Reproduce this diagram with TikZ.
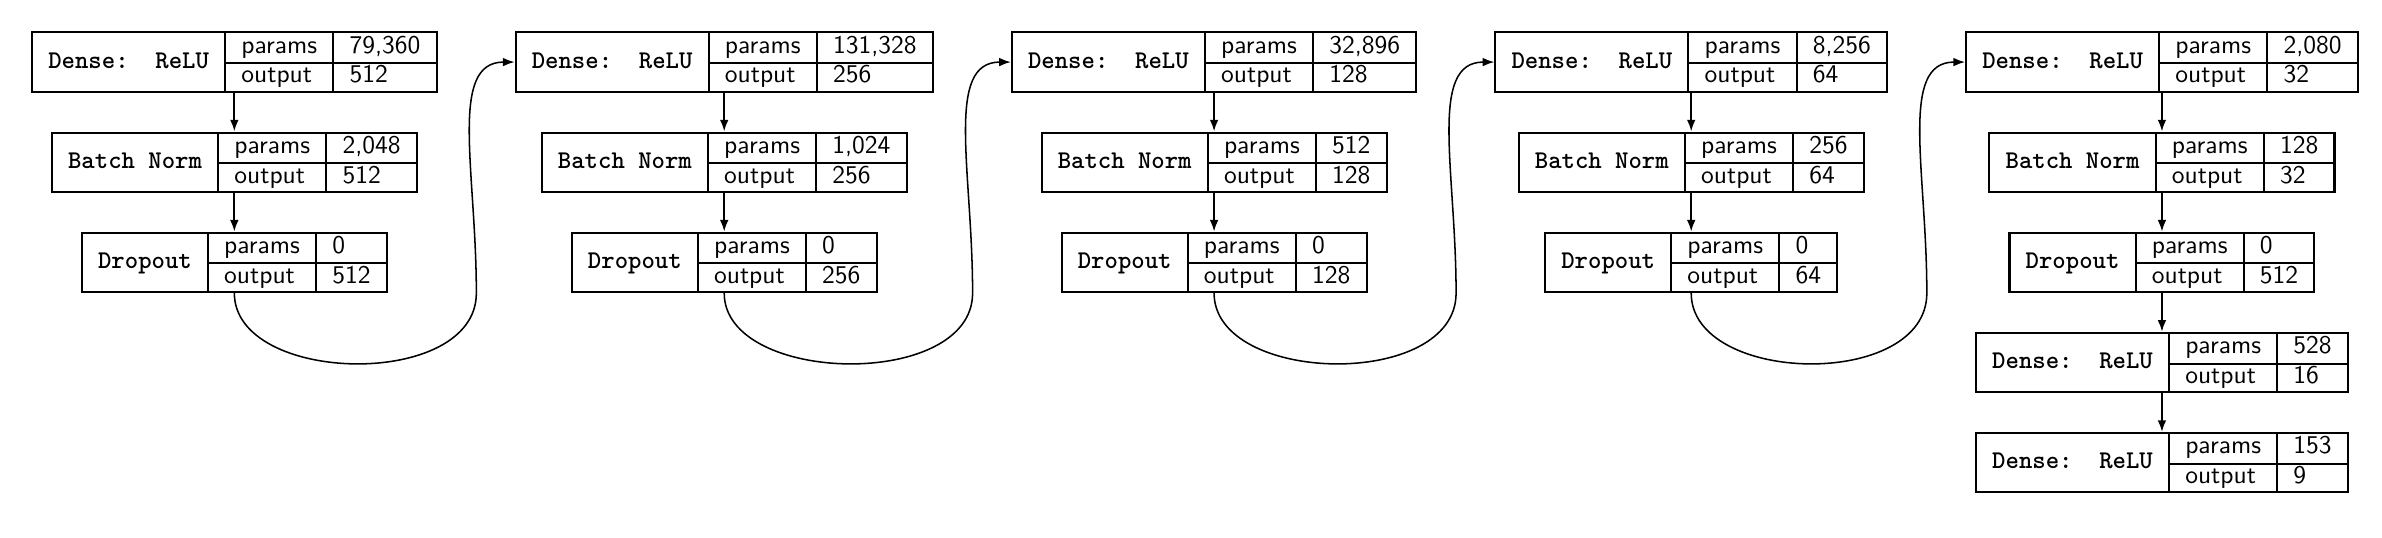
\documentclass[tikz,border=0pt]{standalone}
\usepackage{tikz}
\usepackage{multirow}
\usetikzlibrary{arrows.meta,positioning,calc}
\setlength{\arrayrulewidth}{0.8pt}
\setlength{\tabcolsep}{6.35pt}
\renewcommand{\arraystretch}{0.97}
\newcommand{\layertab}[3]{%
  \begin{tabular}{c|l|l}
    \multirow{2}{*}{\ttfamily\bfseries #1} & params & #2\\ \cline{2-3}
     & output & #3
  \end{tabular}}
\tikzset{
  layer/.style={draw=black, line width=0.8pt, inner sep=0pt, font=\sffamily},
  arrow/.style={-{Latex[length=4.6pt,width=3.4pt]}, line width=0.8pt, draw=black},
  jump/.style={-{Latex[length=4.6pt,width=3.4pt]}, line width=0.6pt, draw=black}
}

\begin{document}
\begin{tikzpicture}[node distance=15.2pt and 30.2pt]
  \useasboundingbox (-12.2pt,12.3pt) rectangle (921.8pt,-198.3pt);
  % first block
  \node[layer, anchor=north west] (dense1) at (0,0) {\layertab{Dense:~~ReLU}{79,360}{512}};
  \node[layer, below=of dense1] (norm1) {\layertab{Batch Norm}{2,048}{512}};
  \node[layer, below=of norm1] (drop1) {\layertab{Dropout}{0}{512}};
  % second block
  \node[layer, right=of dense1] (dense2) {\layertab{Dense:~~ReLU}{131,328}{256}};
  \node[layer, below=of dense2] (norm2) {\layertab{Batch Norm}{1,024}{256}};
  \node[layer, below=of norm2] (drop2) {\layertab{Dropout}{0}{256}};
  % third block
  \node[layer, right=of dense2] (dense3) {\layertab{Dense:~~ReLU}{32,896}{128}};
  \node[layer, below=of dense3] (norm3) {\layertab{Batch Norm}{512}{128}};
  \node[layer, below=of norm3] (drop3) {\layertab{Dropout}{0}{128}};
  % fourth block
  \node[layer, right=of dense3] (dense4) {\layertab{Dense:~~ReLU}{8,256}{64}};
  \node[layer, below=of dense4] (norm4) {\layertab{Batch Norm}{256}{64}};
  \node[layer, below=of norm4] (drop4) {\layertab{Dropout}{0}{64}};
  % last block
  \node[layer, right=of dense4] (dense5) {\layertab{Dense:~~ReLU}{2,080}{32}};
  \node[layer, below=of dense5] (norm5) {\layertab{Batch Norm}{128}{32}};
  \node[layer, below=of norm5] (drop5) {\layertab{Dropout}{0}{512}};
  \node[layer, below=of drop5] (dense6) {\layertab{Dense:~~ReLU}{528}{16}};
  \node[layer, below=of dense6] (dense7) {\layertab{Dense:~~ReLU}{153}{9}};

  \foreach \i in {1,...,5} {
    \draw[arrow] (dense\i) -- (norm\i);
    \draw[arrow] (norm\i) -- (drop\i);
  }
  \draw[arrow] (drop5) -- (dense6);
  \draw[arrow] (dense6) -- (dense7);

  % links between blocks
  \foreach \i/\j in {1/2,2/3,3/4,4/5}
    \draw[jump] (drop\i.south) .. controls +(0,-36pt) and +(0,-38pt)
      .. ($(dense\j.west |- drop\i.south)+(-15pt,0)$)
      .. controls +(0,48pt) and +(-26pt,0) .. (dense\j.west);
\end{tikzpicture}
\end{document}
